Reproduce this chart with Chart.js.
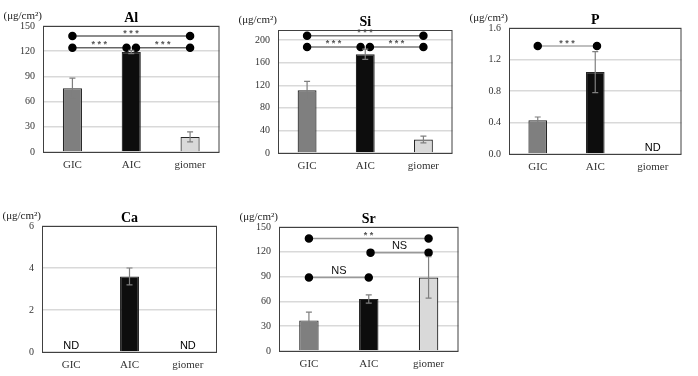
<!DOCTYPE html>
<html>
<head>
<meta charset="utf-8">
<script src="https://cdn.jsdelivr.net/npm/chart.js@4.4.1/dist/chart.umd.min.js"></script>
<style>
  body { margin: 0; background: #fff; width: 698px; height: 376px; position: relative; overflow: hidden; }
  canvas { position: absolute; }
</style>
</head>
<body>
<canvas id="al"></canvas>
<canvas id="si"></canvas>
<canvas id="p"></canvas>
<canvas id="ca"></canvas>
<canvas id="sr"></canvas>
<script>
const groups = ["GIC", "AIC", "giomer"];
const groupColors = ["#7f7f7f", "#0d0d0d", "#d9d9d9"];
const unitLabel = "(\u03bcg/cm\u00b2)";

// Al
const alMeans = [76, 119, 18];
const alErrors = [12, 2, 6];
const alTicks = [0, 30, 60, 90, 120, 150];
const alBrackets = [[0, 2, 138, "***"], [0, 0.92, 124, "***"], [1.08, 2, 124, "***"]];

// Si
const siMeans = [111, 175, 24];
const siErrors = [16, 9, 6];
const siTicks = [0, 40, 80, 120, 160, 200];
const siBrackets = [[0, 2, 208, "***"], [0, 0.92, 188, "***"], [1.08, 2, 188, "***"]];

// P (giomer not detected)
const pMeans = [0.43, 1.04, null];
const pErrors = [0.04, 0.26, null];
const pTicks = [0, 0.4, 0.8, 1.2, 1.6];
const pBrackets = [[0, 1.03, 1.37, "***"]];

// Ca (GIC, giomer not detected)
const caMeans = [null, 3.6, null];
const caErrors = [null, 0.4, null];
const caTicks = [0, 2, 4, 6];
const caBrackets = [];

// Sr
const srMeans = [37, 63, 89];
const srErrors = [10, 5, 25];
const srTicks = [0, 30, 60, 90, 120, 150];
const srBrackets = [[0, 2, 136, "**"], [1.03, 2, 119, "NS"], [0, 1, 89, "NS"]];

const panels = [
  { id: "al", title: "Al", means: alMeans, errors: alErrors, ticks: alTicks, max: 150, brackets: alBrackets, box: [43, 26, 220, 152], lineColor: "#666" },
  { id: "si", title: "Si", means: siMeans, errors: siErrors, ticks: siTicks, max: 218, brackets: siBrackets, box: [278, 30, 453, 153], lineColor: "#777" },
  { id: "p", title: "P", means: pMeans, errors: pErrors, ticks: pTicks, max: 1.6, brackets: pBrackets, box: [509, 28, 682, 154], lineColor: "#aaa", decimals: 1 },
  { id: "ca", title: "Ca", means: caMeans, errors: caErrors, ticks: caTicks, max: 6, brackets: caBrackets, box: [42, 226, 217, 352], lineColor: "#aaa" },
  { id: "sr", title: "Sr", means: srMeans, errors: srErrors, ticks: srTicks, max: 150, brackets: srBrackets, box: [279, 227, 459, 351], lineColor: "#999" }
];

const serif = "'Liberation Serif', 'Times New Roman', serif";
const sans = "'Liberation Sans', Arial, sans-serif";
const padL = 15, padT = 30, padR = 5, axisW = 30, axisH = 24;

const panelPlugin = {
  id: "panelExtras",
  afterDatasetsDraw(chart) {
    const p = chart.options.plugins.panelExtras;
    const ctx = chart.ctx;
    const x = chart.scales.x, x2 = chart.scales.x2, y = chart.scales.y;
    ctx.save();
    // error bars
    ctx.strokeStyle = "#7f7f7f";
    ctx.lineWidth = 1.2;
    p.means.forEach((m, i) => {
      if (m === null) return;
      const cx = x.getPixelForValue(i);
      const yt = y.getPixelForValue(m + p.errors[i]);
      const yb = y.getPixelForValue(m - p.errors[i]);
      ctx.beginPath();
      ctx.moveTo(cx, yt); ctx.lineTo(cx, yb);
      ctx.moveTo(cx - 3, yt); ctx.lineTo(cx + 3, yt);
      ctx.moveTo(cx - 3, yb); ctx.lineTo(cx + 3, yb);
      ctx.stroke();
    });
    // not detected
    ctx.fillStyle = "#000";
    ctx.font = "11px " + sans;
    ctx.textAlign = "center";
    ctx.textBaseline = "bottom";
    p.means.forEach((m, i) => {
      if (m !== null) return;
      ctx.fillText("ND", x.getPixelForValue(i), chart.chartArea.bottom - 1);
    });
    // significance labels
    p.brackets.forEach(b => {
      const mx = x2.getPixelForValue((b[0] + b[1]) / 2);
      const ly = y.getPixelForValue(b[2]);
      if (b[3] === "NS") {
        ctx.font = "11px " + sans;
        ctx.fillStyle = "#111";
        ctx.textBaseline = "bottom";
        ctx.letterSpacing = "0px";
        ctx.fillText(b[3], mx, ly - 1);
      } else {
        ctx.font = "bold 9px " + sans;
        ctx.fillStyle = "#555";
        ctx.textBaseline = "middle";
        ctx.letterSpacing = "2.5px";
        ctx.fillText(b[3], mx + 1, ly - 3);
      }
    });
    ctx.restore();
  },
  afterDraw(chart) {
    const p = chart.options.plugins.panelExtras;
    const ctx = chart.ctx;
    const a = chart.chartArea;
    ctx.save();
    ctx.strokeStyle = "#404040";
    ctx.lineWidth = 1;
    ctx.strokeRect(a.left + 0.5, a.top + 0.5, a.right - a.left - 1, a.bottom - a.top);
    ctx.fillStyle = "#000";
    ctx.font = "bold 14px " + serif;
    ctx.textAlign = "center";
    ctx.textBaseline = "middle";
    ctx.fillText(p.title, (a.left + a.right) / 2, a.top - 8);
    ctx.font = "11px " + serif;
    ctx.fillStyle = "#222";
    ctx.textAlign = "right";
    ctx.fillText(unitLabel, a.left - 1, a.top - 10);
    ctx.restore();
  }
};

function makePanel(p) {
  const canvas = document.getElementById(p.id);
  const w = p.box[2] - p.box[0] + padL + axisW + padR;
  const h = p.box[3] - p.box[1] + padT + axisH;
  canvas.width = w;
  canvas.height = h;
  canvas.style.width = w + "px";
  canvas.style.height = h + "px";
  canvas.style.left = (p.box[0] - padL - axisW) + "px";
  canvas.style.top = (p.box[1] - padT) + "px";

  const datasets = [{
    type: "bar",
    data: p.means,
    backgroundColor: groupColors,
    borderColor: "#262626",
    borderWidth: 1.2,
    grouped: false,
    categoryPercentage: 1,
    barPercentage: 0.325,
    order: 2
  }];
  p.brackets.forEach(b => {
    datasets.push({
      type: "line",
      xAxisID: "x2",
      data: [{ x: b[0], y: b[2] }, { x: b[1], y: b[2] }],
      borderColor: p.lineColor,
      borderWidth: 1.5,
      pointRadius: 3.5,
      pointBackgroundColor: "#000",
      pointBorderColor: "#000",
      order: 1
    });
  });

  return new Chart(canvas, {
    type: "bar",
    data: { labels: groups, datasets: datasets },
    options: {
      responsive: false,
      animation: false,
      layout: { padding: { left: padL, top: padT, right: padR, bottom: 0 } },
      plugins: {
        legend: { display: false },
        tooltip: { enabled: false },
        panelExtras: p
      },
      scales: {
        x: {
          type: "category",
          grid: { display: false, drawTicks: false },
          border: { display: false },
          ticks: { font: { family: serif, size: 11 }, color: "#333", padding: 7, maxRotation: 0 },
          afterFit: s => { s.height = axisH; }
        },
        x2: { type: "linear", display: false, offset: false, min: -0.5, max: 2.5 },
        y: {
          min: 0,
          max: p.max,
          afterBuildTicks: s => { s.ticks = p.ticks.map(v => ({ value: v })); },
          ticks: {
            font: { family: serif, size: 10 },
            color: "#333",
            padding: 8,
            callback: v => p.decimals ? v.toFixed(p.decimals) : v
          },
          grid: { color: "#d9d9d9", lineWidth: 1.5, drawTicks: false },
          border: { display: false },
          afterFit: s => { s.width = axisW; }
        }
      }
    },
    plugins: [panelPlugin]
  });
}

panels.forEach(makePanel);
</script>
</body>
</html>
